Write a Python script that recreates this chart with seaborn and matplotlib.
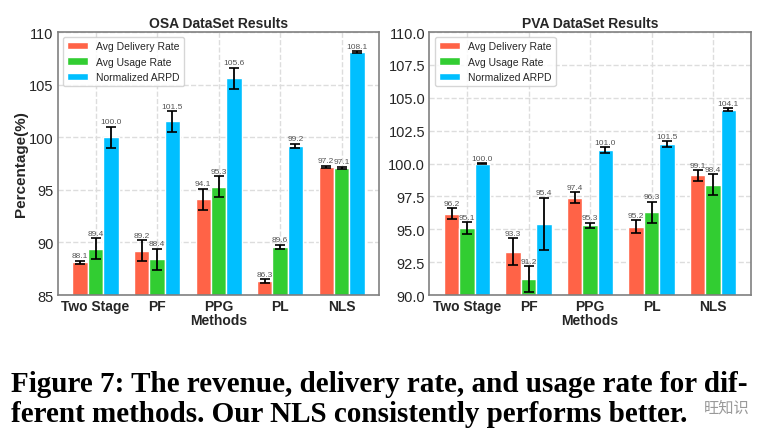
import matplotlib
matplotlib.use('Agg')
import matplotlib.pyplot as plt
import numpy as np
import pandas as pd
import seaborn as sns

methods = ['Two Stage', 'PF', 'PPG', 'PL', 'NLS']
series = ['Avg Delivery Rate', 'Avg Usage Rate', 'Normalized ARPD']
colors = ['#FF6347', '#32CD32', '#00BFFF']

osa_delivery = [88.1, 89.2, 94.1, 86.3, 97.2]
osa_usage = [89.4, 88.4, 95.3, 89.6, 97.1]
osa_arpd = [100.0, 101.5, 105.6, 99.2, 108.1]
osa_delivery_err = [0.15, 1.0, 1.0, 0.2, 0.1]
osa_usage_err = [1.0, 1.0, 1.0, 0.2, 0.1]
osa_arpd_err = [1.0, 1.0, 1.0, 0.2, 0.1]

pva_delivery = [96.2, 93.3, 97.4, 95.2, 99.1]
pva_usage = [95.1, 91.2, 95.3, 96.3, 98.4]
pva_arpd = [100.0, 95.4, 101.0, 101.5, 104.1]
pva_delivery_err = [0.4, 1.0, 0.4, 0.5, 0.4]
pva_usage_err = [0.45, 1.0, 0.2, 0.8, 0.8]
pva_arpd_err = [0.03, 2.0, 0.22, 0.22, 0.1]

sns.set_theme(style='whitegrid', rc={
    'grid.linestyle': '--',
    'grid.color': '#dddddd',
    'axes.edgecolor': '#808080',
    'axes.linewidth': 1.2,
})
plt.rcParams['font.family'] = ['Liberation Sans', 'DejaVu Sans']


def make_df(vals, errs):
    rows = []
    for s, v, e in zip(series, vals, errs):
        for m, y, ee in zip(methods, v, e):
            rows.append({'Methods': m, 'series': s, 'value': y, 'err': ee})
    return pd.DataFrame(rows)


def draw(ax, df, title, ylim, ticks, fmt):
    sns.barplot(data=df, x='Methods', y='value', hue='series',
                palette=dict(zip(series, colors)), saturation=1,
                width=0.75, edgecolor='white', linewidth=1,
                errorbar=None, ax=ax)
    for s, cont in zip(series, ax.containers):
        sub = df[df['series'] == s]
        for bar, (_, r) in zip(cont, sub.iterrows()):
            cx = bar.get_x() + bar.get_width() / 2
            ax.errorbar(cx, r['value'], yerr=r['err'], color='black',
                        capsize=3.5, elinewidth=1.3, capthick=1.2, zorder=5)
            ax.annotate(f"{r['value']:.1f}", (cx, r['value'] + r['err']),
                        xytext=(0, 1), textcoords='offset points',
                        ha='center', va='bottom', fontsize=6, color='#555555')
    ax.set_ylim(*ylim)
    ax.set_yticks(ticks)
    ax.set_yticklabels([fmt.format(t) for t in ticks], fontsize=10.5)
    ax.set_xticks(range(len(methods)))
    ax.set_xticklabels(methods, fontsize=10, fontweight='bold')
    ax.set_xlabel('Methods', fontsize=10, fontweight='bold', labelpad=0)
    ax.set_title(title, fontsize=10, fontweight='bold', pad=4)
    ax.tick_params(axis='both', length=0, pad=3)
    ax.xaxis.grid(True)
    ax.set_axisbelow(True)
    for sp in ax.spines.values():
        sp.set_visible(True)
    ax.legend(loc='upper left', fontsize=7.5, title=None)


fig = plt.figure(figsize=(7.82, 4.35), dpi=100)
ax1 = fig.add_axes([0.074, 0.3195, 0.411, 0.6045])
ax2 = fig.add_axes([0.549, 0.3195, 0.411, 0.6045])

draw(ax1, make_df([osa_delivery, osa_usage, osa_arpd],
                  [osa_delivery_err, osa_usage_err, osa_arpd_err]),
     'OSA DataSet Results', (85, 110), [85, 90, 95, 100, 105, 110], '{:.0f}')
ax1.set_ylabel('Percentage(%)', fontsize=11, fontweight='bold')
ax1.yaxis.set_label_coords(-0.093, 0.5)

draw(ax2, make_df([pva_delivery, pva_usage, pva_arpd],
                  [pva_delivery_err, pva_usage_err, pva_arpd_err]),
     'PVA DataSet Results', (90, 110),
     [90, 92.5, 95, 97.5, 100, 102.5, 105, 107.5, 110], '{:.1f}')
ax2.set_ylabel('')

cap_font = dict(family=['Liberation Serif', 'DejaVu Serif'], fontweight='bold',
                fontsize=21, color='black', va='baseline', ha='left')
fig.text(11 / 782, 1 - 392 / 435,
         'Figure 7: The revenue, delivery rate, and usage rate for dif-', **cap_font)
fig.text(11 / 782, 1 - 422 / 435,
         'ferent methods. Our NLS consistently performs better.', **cap_font)
fig.text(704 / 782, 1 - 413 / 435, '旺知识', fontsize=11, color='#999999',
         family=['Noto Sans CJK SC', 'DejaVu Sans'], ha='left', va='baseline')

fig.savefig('out.png', dpi=100)
